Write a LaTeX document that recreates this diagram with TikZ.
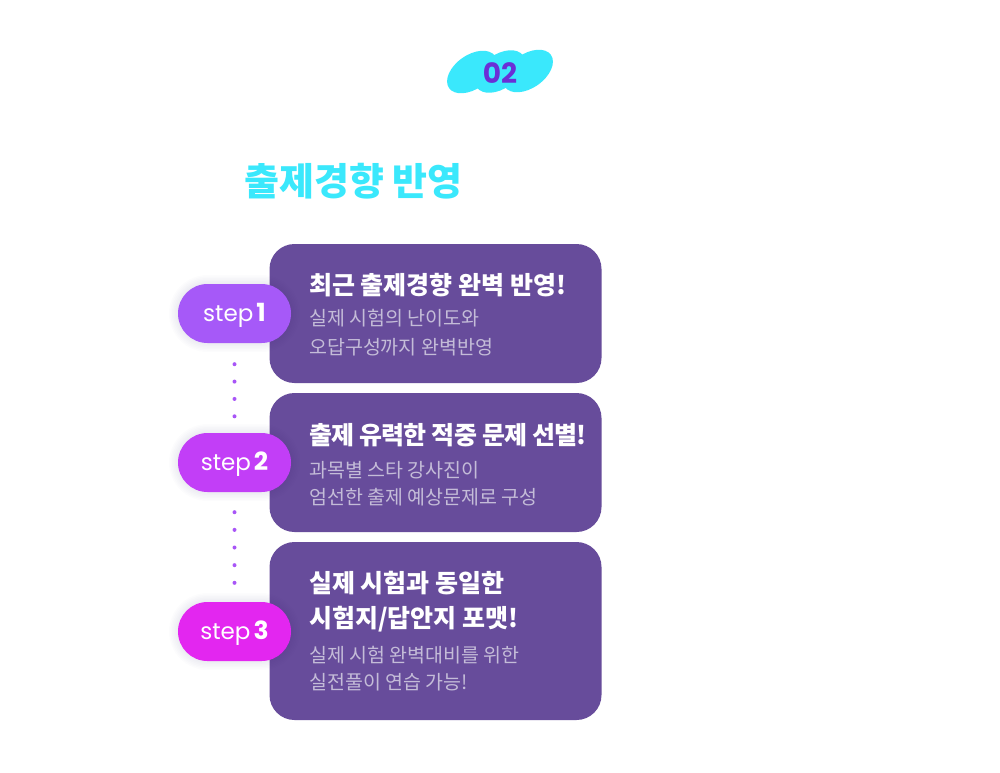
\documentclass[tikz,border=0pt]{standalone}
\usepackage{fontspec}
\setmainfont{Noto Sans CJK KR}
\newfontfamily\pop{Poppins}
\usetikzlibrary{calc}
\definecolor{cardc}{HTML}{674C9B}
\definecolor{cyanc}{HTML}{3AE8FC}
\definecolor{numc}{HTML}{6A2FD6}
\definecolor{subc}{HTML}{C4BCD8}
\definecolor{pillA}{HTML}{A659F8}
\definecolor{pillB}{HTML}{C23EF7}
\definecolor{pillC}{HTML}{E326F0}
\definecolor{dotc}{HTML}{A855F7}
\definecolor{glowc}{HTML}{3A1F70}
\tikzset{
  card/.style={fill=cardc, rounded corners=25pt, minimum width=332pt, inner sep=0pt, draw=none},
  pill/.style={rounded corners=29.5pt, minimum width=113pt, minimum height=59pt, inner sep=0pt, text=white, text height=15pt, text depth=0pt, font=\pop\fontsize{23}{23}\selectfont},
  ttl/.style={anchor=base west, text=white, font=\bfseries\fontsize{25}{25}\selectfont, inner sep=0pt},
  sub/.style={anchor=base west, text=subc, font=\fontsize{19.5}{19.5}\selectfont, inner sep=0pt},
  dotmark/.style={fill=dotc},
  blob/.style={fill=cyanc}
}
\newcommand{\pillglow}[2]{%
  \foreach \r in {1.5,3,...,9}{%
    \fill[glowc, opacity=0.012, rounded corners=29.5pt+\r pt] (178pt-\r pt,#1pt+\r pt) rectangle (291pt+\r pt,#2pt-\r pt);
  }%
}
\begin{document}
\begin{tikzpicture}[x=1pt,y=1pt]
\fill[white] (0,0) rectangle (1000,-772);
\useasboundingbox (0,0) rectangle (1000,-772);
% badge
\fill[blob, rotate around={35:(472,-72)}] (472,-72) ellipse [x radius=28pt, y radius=17pt];
\fill[blob, rotate around={35:(500,-71.5)}] (500,-71.5) ellipse [x radius=28pt, y radius=17pt];
\fill[blob, rotate around={35:(528,-71)}] (528,-71) ellipse [x radius=28pt, y radius=17pt];
\node[text=numc, font=\pop\bfseries\fontsize{28}{28}\selectfont, inner sep=0pt] (num) at (500,-73) {02};
% heading
\node[anchor=base west, text=cyanc, font=\bfseries\fontsize{38}{38}\selectfont, inner sep=0pt] (head) at (244,-195.5) {출제경향 반영};
% cards
\node[card, minimum height=139pt] (c1) at (435.5,-313.5) {};
\node[card, minimum height=139pt] (c2) at (435.5,-462.5) {};
\node[card, minimum height=178pt] (c3) at (435.5,-631) {};
% glows
\pillglow{-284}{-343}
\pillglow{-433}{-492}
\pillglow{-602}{-661}
% pills
\node[pill, fill=pillA] (p1) at (234.5,-313.5) {step\hspace{3pt}\textbf{\fontsize{25}{25}\selectfont 1}};
\node[pill, fill=pillB] (p2) at (234.5,-462.5) {step\hspace{3pt}\textbf{\fontsize{25}{25}\selectfont 2}};
\node[pill, fill=pillC] (p3) at (234.5,-631.5) {step\hspace{3pt}\textbf{\fontsize{25}{25}\selectfont 3}};
% dotted connectors
\coordinate (d1a) at ([yshift=-21pt]p1.south);
\coordinate (d1b) at ([yshift=16.5pt]p2.north);
\coordinate (d2a) at ([yshift=-20pt]p2.south);
\coordinate (d2b) at ([yshift=19pt]p3.north);
\foreach \i in {0,1,2,3}{\fill[dotmark] ($(d1a)!\i/3!(d1b)$) circle (2pt);}
\foreach \i in {0,1,2,3,4}{\fill[dotmark] ($(d2a)!\i/4!(d2b)$) circle (2pt);}
% card texts
\node[ttl] (t1) at (309,-294.3) {최근 출제경향 완벽 반영!};
\node[sub] (s1a) at (309,-325.2) {실제 시험의 난이도와};
\node[sub] (s1b) at (309,-354.2) {오답구성까지 완벽반영};
\node[ttl] (t2) at (309,-444.3) {\addfontfeature{LetterSpace=-3}출제 유력한 적중 문제 선별!};
\node[sub] (s2a) at (309,-477.2) {과목별 스타 강사진이};
\node[sub] (s2b) at (309,-504.2) {엄선한 출제 예상문제로 구성};
\node[ttl] (t3a) at (309,-592.3) {실제 시험과 동일한};
\node[ttl] (t3b) at (309,-627.3) {시험지/답안지 포맷!};
\node[sub] (s3a) at (309,-662.2) {실제 시험 완벽대비를 위한};
\node[sub] (s3b) at (309,-689.2) {실전풀이 연습 가능!};
\end{tikzpicture}
\end{document}
